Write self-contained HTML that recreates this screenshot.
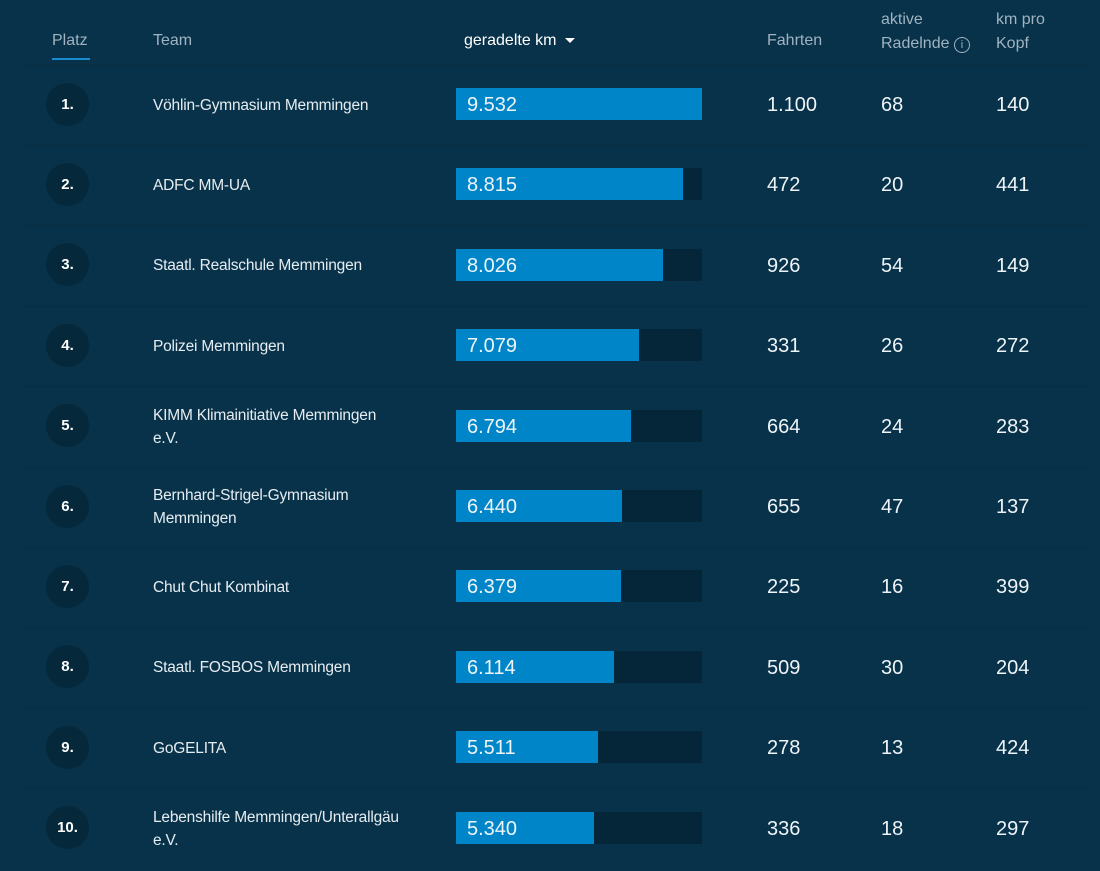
<!DOCTYPE html>
<html><head><meta charset="utf-8"><style>
body{margin:0;width:1100px;height:871px;background:#08324a;font-family:"Liberation Sans",sans-serif;color:#e6edf1;position:relative;overflow:hidden}
.a{position:absolute}
.hd{color:#9fb3c0;font-size:16px}
.sep{position:absolute;left:22px;width:1068px;height:1px;background:#0a2c3f}
.c{position:absolute;left:46px;width:43px;height:43px;border-radius:50%;background:#05283a;color:#fff;font-size:15px;font-weight:bold;text-align:center;line-height:43px}
.t{position:absolute;left:153px;font-size:15.5px;color:#e6edf1;line-height:23px;letter-spacing:-0.2px}
.tr{position:absolute;left:456px;width:246px;height:32px;background:#052638}
.f{height:32px;background:#0086c8}
.v{position:absolute;left:467px;font-size:20px;color:#eef4f7;line-height:34px}
.n{position:absolute;font-size:20px;color:#eef4f7}
</style></head><body>
<div class="a hd" style="left:52px;top:32px">Platz</div>
<div class="a" style="left:52px;top:58px;width:38px;height:2px;background:#1a8bd0"></div>
<div class="a hd" style="left:153px;top:32px">Team</div>
<div class="a" style="left:464px;top:32px;font-size:16px;color:#fff">geradelte km <span style="display:inline-block;width:0;height:0;border-left:5px solid transparent;border-right:5px solid transparent;border-top:5px solid #fff;margin-left:4px;vertical-align:middle"></span></div>
<div class="a hd" style="left:767px;top:32px">Fahrten</div>
<div class="a hd" style="left:881px;top:8px;line-height:24px">aktive<br>Radelnde <span style="display:inline-block;width:16px;height:16px;border:1.5px solid #9fb3c0;border-radius:50%;font-size:11px;text-align:center;line-height:14px;box-sizing:border-box;vertical-align:0px">i</span></div>
<div class="a hd" style="left:996px;top:8px;line-height:24px">km pro<br>Kopf</div>
<div id="rows"></div>
<script>
const d=[["1.","Vöhlin-Gymnasium Memmingen","9.532",9532,"1.100","68","140"],
["2.","ADFC MM-UA","8.815",8815,"472","20","441"],
["3.","Staatl. Realschule Memmingen","8.026",8026,"926","54","149"],
["4.","Polizei Memmingen","7.079",7079,"331","26","272"],
["5.","KIMM Klimainitiative Memmingen<br>e.V.","6.794",6794,"664","24","283"],
["6.","Bernhard-Strigel-Gymnasium<br>Memmingen","6.440",6440,"655","47","137"],
["7.","Chut Chut Kombinat","6.379",6379,"225","16","399"],
["8.","Staatl. FOSBOS Memmingen","6.114",6114,"509","30","204"],
["9.","GoGELITA","5.511",5511,"278","13","424"],
["10.","Lebenshilfe Memmingen/Unterallgäu<br>e.V.","5.340",5340,"336","18","297"]];
let h="";
d.forEach((r,i)=>{const cy=104+i*80.4;const two=r[1].includes("<br>");
h+=`<div class="sep" style="top:${cy-39.5}px"></div>
<div class="c" style="top:${cy-21.5}px">${r[0]}</div>
<div class="t" style="top:${cy-(two?22:10.5)}px">${r[1]}</div>
<div class="tr" style="top:${cy-16}px"><div class="f" style="width:${r[3]/9532*246}px"></div></div>
<div class="v" style="top:${cy-16}px">${r[2]}</div>
<div class="n" style="left:767px;top:${cy-10}px">${r[4]}</div>
<div class="n" style="left:881px;top:${cy-10}px">${r[5]}</div>
<div class="n" style="left:996px;top:${cy-10}px">${r[6]}</div>`;});
document.getElementById("rows").innerHTML=h;
</script>
</body></html>
